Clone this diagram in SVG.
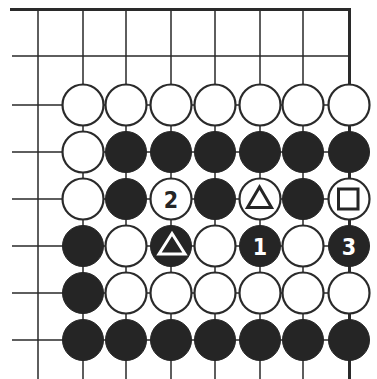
<svg xmlns="http://www.w3.org/2000/svg" width="377" height="379" viewBox="0 0 377 379">
<style>
.g{stroke:#2a2a2a;stroke-width:1.5;fill:none}
.edge{stroke:#2a2a2a;stroke-width:3;fill:none}
.w{fill:#fff;stroke:#2a2a2a;stroke-width:2.2}
.b{fill:#252525;stroke:#252525;stroke-width:1}
.num{font-family:"DejaVu Sans","Liberation Sans",sans-serif;font-weight:bold;font-stretch:condensed;font-size:23px;text-anchor:middle}
</style>
<rect width="377" height="379" fill="#fff"/>
<g id="grid">
<path class="g" d="M38,9V379M83,9V379M126,9V379M171,9V379M215,9V379M260,9V379M303,9V379"/>
<path class="g" d="M12,56H349M12,105H349M12,152H349M12,199H349M12,246H349M12,293H349M12,340H349"/>
<path class="edge" d="M10,9.5H349.5V379"/>
</g>
<g id="row1">
<circle class="w" cx="83" cy="105" r="20.5"/><circle class="w" cx="126" cy="105" r="20.5"/><circle class="w" cx="171" cy="105" r="20.5"/><circle class="w" cx="215" cy="105" r="20.5"/><circle class="w" cx="260" cy="105" r="20.5"/><circle class="w" cx="303" cy="105" r="20.5"/><circle class="w" cx="349" cy="105" r="20.5"/>
</g>
<g id="row2">
<circle class="w" cx="83" cy="152" r="20.5"/><circle class="b" cx="126" cy="152" r="20.5"/><circle class="b" cx="171" cy="152" r="20.5"/><circle class="b" cx="215" cy="152" r="20.5"/><circle class="b" cx="260" cy="152" r="20.5"/><circle class="b" cx="303" cy="152" r="20.5"/><circle class="b" cx="349" cy="152" r="20.5"/>
</g>
<g id="row3">
<circle class="w" cx="83" cy="199" r="20.5"/><circle class="b" cx="126" cy="199" r="20.5"/>
<g id="m2"><circle class="w" cx="171" cy="199" r="20.5"/><text class="num" x="171" y="207.5" fill="#252525">2</text></g>
<circle class="b" cx="215" cy="199" r="20.5"/>
<g id="tri-w"><circle class="w" cx="260" cy="199" r="20.5"/><path d="M259.5,187L247.5,207.5H271.5Z" fill="none" stroke="#252525" stroke-width="3" stroke-linejoin="miter"/></g>
<circle class="b" cx="303" cy="199" r="20.5"/>
<g id="sq"><circle class="w" cx="349" cy="199" r="20.5"/><rect x="338.5" y="189" width="19.5" height="20" fill="none" stroke="#252525" stroke-width="3"/></g>
</g>
<g id="row4">
<circle class="b" cx="83" cy="246" r="20.5"/><circle class="w" cx="126" cy="246" r="20.5"/>
<g id="tri-b"><circle class="b" cx="171" cy="246" r="20.5"/><path d="M172,233.5L159,254H185Z" fill="none" stroke="#fff" stroke-width="3"/></g>
<circle class="w" cx="215" cy="246" r="20.5"/>
<g id="m1"><circle class="b" cx="260" cy="246" r="20.5"/><text class="num" x="260" y="254.5" fill="#fff">1</text></g>
<circle class="w" cx="303" cy="246" r="20.5"/>
<g id="m3"><circle class="b" cx="349" cy="246" r="20.5"/><text class="num" x="349" y="254.5" fill="#fff">3</text></g>
</g>
<g id="row5">
<circle class="b" cx="83" cy="293" r="20.5"/><circle class="w" cx="126" cy="293" r="20.5"/><circle class="w" cx="171" cy="293" r="20.5"/><circle class="w" cx="215" cy="293" r="20.5"/><circle class="w" cx="260" cy="293" r="20.5"/><circle class="w" cx="303" cy="293" r="20.5"/><circle class="w" cx="349" cy="293" r="20.5"/>
</g>
<g id="row6">
<circle class="b" cx="83" cy="340" r="20.5"/><circle class="b" cx="126" cy="340" r="20.5"/><circle class="b" cx="171" cy="340" r="20.5"/><circle class="b" cx="215" cy="340" r="20.5"/><circle class="b" cx="260" cy="340" r="20.5"/><circle class="b" cx="303" cy="340" r="20.5"/><circle class="b" cx="349" cy="340" r="20.5"/>
</g>
</svg>
